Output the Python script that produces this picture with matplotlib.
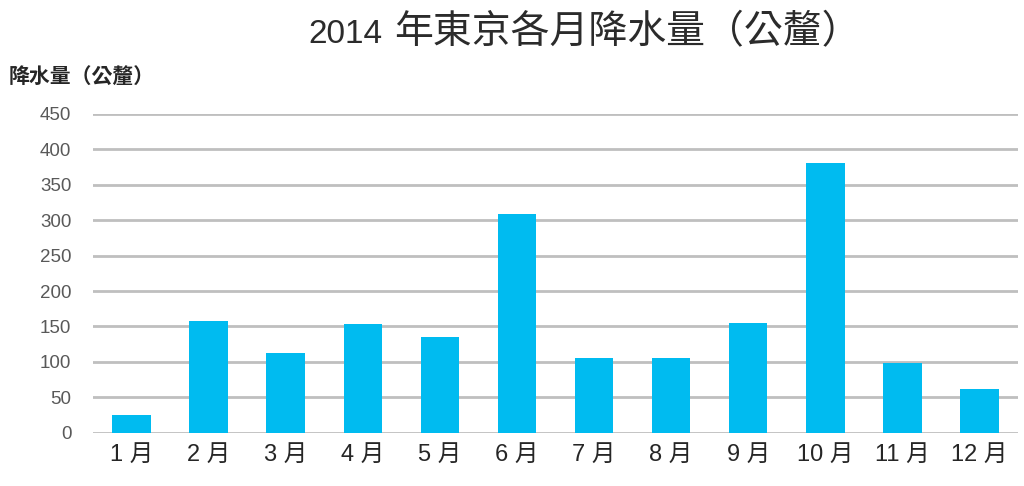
import matplotlib
matplotlib.use("Agg")
import matplotlib.pyplot as plt

months = ["1 月", "2 月", "3 月", "4 月", "5 月", "6 月", "7 月", "8 月", "9 月", "10 月", "11 月", "12 月"]
rainfall = [25, 157, 113, 154, 135, 309, 105, 105, 155, 381, 98, 62]
yticks = [0, 50, 100, 150, 200, 250, 300, 350, 400, 450]
title_year = "2014"
title_rest = "年東京各月降水量（公釐）"
ylabel = "降水量（公釐）"

plt.rcParams['font.family'] = ['Liberation Sans', 'Noto Sans CJK TC', 'DejaVu Sans']

fig = plt.figure(figsize=(10.24, 4.86), dpi=100)
ax = fig.add_axes([93/1024, 0.1097, (1018-93)/1024, 0.7656-0.1097])

x = list(range(len(months)))
ax.bar(x, rainfall, width=0.5, color="#00BBF0", zorder=3)
ax.set_xlim(-0.5, len(months) - 0.5)
ax.set_ylim(0, 450)
ax.set_yticks(yticks)
ax.set_yticklabels([str(v) for v in yticks], fontsize=13.5, color="#595959")
ax.set_xticks(x)
ax.set_xticklabels(months, fontsize=17, color="#262626")
ax.yaxis.grid(True, color="#BFBFBF", linewidth=2, zorder=0)
for s in ax.spines.values():
    s.set_visible(False)
ax.tick_params(axis='both', length=0)
ax.tick_params(axis='y', pad=15.5)
ax.tick_params(axis='x', pad=8)

fig.text(308/1024, 1 - 43/486, title_year, ha='left', va='baseline', fontsize=24,
         color="#2b2b2b", family=['Liberation Sans'])
fig.text(394/1024, 1 - 43/486, title_rest, ha='left', va='baseline', fontsize=28,
         color="#2b2b2b", family=['Noto Sans CJK TC'])
fig.text(9/1024, 1 - 77/486, ylabel, ha='left', va='center', fontsize=15, color="#262626",
         fontweight='bold', family=['Noto Sans CJK TC'])

fig.savefig("out.png", dpi=100, facecolor="white")
